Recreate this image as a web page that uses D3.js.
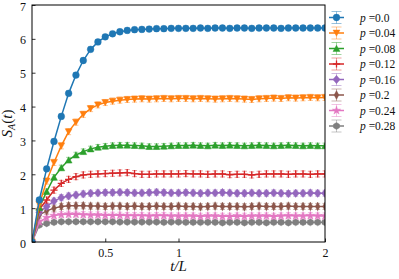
<!DOCTYPE html>
<html>
<head>
<meta charset="utf-8">
<script src="https://cdn.jsdelivr.net/npm/d3@7"></script>
<style>
  body { margin: 0; background: #fff; }
  svg { display: block; }
  text { font-family: "Liberation Serif", "DejaVu Serif", serif; fill: #111; }
</style>
</head>
<body>
<script>
// t/L sampling
const tL = [0, 0.05, 0.1, 0.15, 0.2, 0.25, 0.3, 0.35, 0.4, 0.45, 0.5, 0.55, 0.6, 0.65, 0.7, 0.75, 0.8, 0.85, 0.9, 0.95,
  1.0, 1.05, 1.1, 1.15, 1.2, 1.25, 1.3, 1.35, 1.4, 1.45, 1.5, 1.55, 1.6, 1.65, 1.7, 1.75, 1.8, 1.85, 1.9, 1.95, 2.0];

const labels = ["0.0", "0.04", "0.08", "0.12", "0.16", "0.2", "0.24", "0.28"];
const colors = ["#1f77b4", "#ff7f0e", "#2ca02c", "#d62728", "#9467bd", "#8c564b", "#e377c2", "#7f7f7f"];
const markers = ["circle", "tridown", "triup", "plus", "diamond", "thindiamond", "star", "hexagon"];

const s00 = [0, 1.24, 2.16, 2.97, 3.71, 4.39, 4.93, 5.36, 5.69, 5.91, 6.06, 6.15, 6.21, 6.25, 6.27, 6.28, 6.29, 6.30, 6.30, 6.31,
  6.31, 6.31, 6.31, 6.32, 6.31, 6.32, 6.32, 6.31, 6.32, 6.32, 6.31, 6.32, 6.32, 6.32, 6.31, 6.32, 6.32, 6.32, 6.32, 6.32, 6.32];
const s04 = [0, 1.11, 1.80, 2.35, 2.84, 3.26, 3.54, 3.77, 3.94, 4.05, 4.12, 4.16, 4.19, 4.21, 4.22, 4.23, 4.22, 4.23, 4.24, 4.23,
  4.24, 4.24, 4.23, 4.24, 4.23, 4.22, 4.23, 4.24, 4.23, 4.22, 4.21, 4.23, 4.24, 4.25, 4.24, 4.26, 4.25, 4.26, 4.27, 4.26, 4.27];
const s08 = [0, 1.02, 1.49, 1.91, 2.19, 2.42, 2.57, 2.67, 2.75, 2.80, 2.83, 2.85, 2.86, 2.86, 2.85, 2.84, 2.82, 2.82, 2.83, 2.84,
  2.85, 2.85, 2.86, 2.85, 2.84, 2.86, 2.85, 2.86, 2.85, 2.84, 2.85, 2.86, 2.85, 2.84, 2.85, 2.86, 2.85, 2.84, 2.85, 2.84, 2.84];
const s12 = [0, 0.97, 1.24, 1.53, 1.73, 1.85, 1.93, 1.98, 2.00, 2.01, 2.02, 2.03, 2.04, 2.05, 2.02, 2.00, 2.00, 2.01, 2.01, 2.01,
  2.01, 2.02, 2.01, 2.01, 2.00, 2.01, 2.01, 1.99, 2.00, 2.00, 1.98, 2.00, 2.01, 2.01, 2.01, 2.00, 2.01, 2.01, 2.00, 2.01, 2.01];
const s16 = [0, 0.88, 1.05, 1.21, 1.31, 1.36, 1.39, 1.42, 1.44, 1.45, 1.46, 1.46, 1.47, 1.46, 1.45, 1.45, 1.46, 1.47, 1.46, 1.45,
  1.45, 1.46, 1.45, 1.44, 1.45, 1.45, 1.46, 1.45, 1.44, 1.44, 1.45, 1.44, 1.44, 1.45, 1.44, 1.43, 1.44, 1.44, 1.45, 1.44, 1.44];
const s20 = [0, 0.80, 0.92, 1.00, 1.05, 1.07, 1.07, 1.07, 1.06, 1.06, 1.05, 1.06, 1.06, 1.05, 1.06, 1.05, 1.05, 1.06, 1.05, 1.05,
  1.06, 1.05, 1.05, 1.04, 1.05, 1.06, 1.05, 1.05, 1.05, 1.04, 1.05, 1.06, 1.05, 1.05, 1.05, 1.06, 1.05, 1.05, 1.05, 1.05, 1.05];
const s24 = [0, 0.60, 0.72, 0.78, 0.81, 0.82, 0.82, 0.81, 0.80, 0.80, 0.79, 0.79, 0.79, 0.78, 0.78, 0.78, 0.77, 0.78, 0.78, 0.77,
  0.77, 0.77, 0.77, 0.76, 0.77, 0.77, 0.76, 0.76, 0.77, 0.76, 0.77, 0.77, 0.77, 0.76, 0.77, 0.78, 0.77, 0.77, 0.78, 0.77, 0.77];
const s28 = [0, 0.50, 0.55, 0.58, 0.60, 0.60, 0.60, 0.60, 0.60, 0.60, 0.60, 0.60, 0.59, 0.59, 0.59, 0.59, 0.59, 0.59, 0.58, 0.59,
  0.59, 0.58, 0.58, 0.58, 0.58, 0.58, 0.57, 0.58, 0.58, 0.57, 0.58, 0.58, 0.57, 0.58, 0.58, 0.57, 0.58, 0.58, 0.58, 0.58, 0.58];
const seriesValues = [s00, s04, s08, s12, s16, s20, s24, s28];
// one typical error bar half-height per series
const errs = [0.07, 0.09, 0.08, 0.09, 0.09, 0.09, 0.09, 0.06];

const xTicks = [0.5, 1, 2];
const yTicks = [0, 1, 2, 3, 4, 5, 6, 7];

const W = 399, H = 279;
const margin = { top: 5, right: 74, bottom: 37, left: 32 },
      width = W - margin.left - margin.right,
      height = H - margin.top - margin.bottom;

const svg = d3.select("body").append("svg")
  .attr("width", W)
  .attr("height", H);

const x = d3.scaleLinear().domain([0, 2]).range([0, width]);
const y = d3.scaleLinear().domain([0, 7]).range([height, 0]);

const g = svg.append("g")
  .attr("transform", `translate(${margin.left}, ${margin.top})`);

g.append("clipPath").attr("id", "clip")
  .append("rect").attr("width", width).attr("height", height);

// marker paths, centred on 0,0
function markerPath(kind) {
  const p = d3.path();
  switch (kind) {
    case "circle": p.arc(0, 0, 3.4, 0, 2 * Math.PI); break;
    case "tridown": p.moveTo(-3.5, -3); p.lineTo(3.5, -3); p.lineTo(0, 3.3); p.closePath(); break;
    case "triup": p.moveTo(-3.5, 3); p.lineTo(3.5, 3); p.lineTo(0, -3.3); p.closePath(); break;
    case "plus": p.moveTo(-3.6, 0); p.lineTo(3.6, 0); p.moveTo(0, -3.6); p.lineTo(0, 3.6); break;
    case "diamond": p.moveTo(0, -4.2); p.lineTo(3.6, 0); p.lineTo(0, 4.2); p.lineTo(-3.6, 0); p.closePath(); break;
    case "thindiamond": p.moveTo(0, -4.4); p.lineTo(2.4, 0); p.lineTo(0, 4.4); p.lineTo(-2.4, 0); p.closePath(); break;
    case "star": return d3.symbol(d3.symbolStar, 22)();
    case "hexagon":
      for (let i = 0; i < 6; i++) {
        const a = Math.PI / 6 + i * Math.PI / 3;
        if (i === 0) p.moveTo(3.5 * Math.cos(a), 3.5 * Math.sin(a));
        else p.lineTo(3.5 * Math.cos(a), 3.5 * Math.sin(a));
      }
      p.closePath(); break;
  }
  return p.toString();
}

function drawMarker(sel, kind, color) {
  const stroked = kind === "plus";
  sel.append("path")
    .attr("d", markerPath(kind))
    .attr("fill", stroked ? "none" : color)
    .attr("stroke", color)
    .attr("stroke-width", stroked ? 1.3 : 0.4);
}

const data = seriesValues.map((vals, i) => ({
  label: labels[i], color: colors[i], marker: markers[i], err: errs[i],
  values: vals.map((v, j) => ({ t: tL[j], s: v }))
}));

const line = d3.line().x(d => x(d.t)).y(d => y(d.s));

const plot = g.append("g").attr("clip-path", "url(#clip)");

// draw from last to first so the top series stay on top
data.slice().reverse().forEach(ser => {
  const sg = plot.append("g");
  sg.append("path")
    .attr("d", line(ser.values))
    .attr("fill", "none")
    .attr("stroke", ser.color)
    .attr("stroke-width", 1.5);

  const eb = sg.append("g")
    .attr("stroke", ser.color)
    .attr("stroke-opacity", 0.45)
    .attr("stroke-width", 1);
  ser.values.forEach(d => {
    const y0 = y(d.s - ser.err), y1 = y(d.s + ser.err), cx = x(d.t);
    eb.append("line").attr("x1", cx).attr("x2", cx).attr("y1", y0).attr("y2", y1);
    eb.append("line").attr("x1", cx - 2.5).attr("x2", cx + 2.5).attr("y1", y0).attr("y2", y0);
    eb.append("line").attr("x1", cx - 2.5).attr("x2", cx + 2.5).attr("y1", y1).attr("y2", y1);
  });

  ser.values.forEach(d => {
    const m = sg.append("g").attr("transform", `translate(${x(d.t)},${y(d.s)})`);
    drawMarker(m, ser.marker, ser.color);
  });
});

// axes: inward ticks, no domain path (frame drawn separately)
const xAxis = g.append("g")
  .attr("transform", `translate(0, ${height})`)
  .call(d3.axisBottom(x).tickValues(xTicks).tickSize(-3.5).tickPadding(6).tickFormat(d3.format("")));
const yAxis = g.append("g")
  .call(d3.axisLeft(y).tickValues(yTicks).tickSize(-3.5).tickPadding(6).tickFormat(d3.format("d")));
[xAxis, yAxis].forEach(a => {
  a.select(".domain").remove();
  a.selectAll("line").attr("stroke", "#000").attr("stroke-width", 0.8);
  a.selectAll("text").attr("font-family", "Liberation Serif, serif").attr("font-size", 12).attr("fill", "#111");
});
yAxis.selectAll("text").attr("dy", "0.42em");

g.append("rect")
  .attr("width", width).attr("height", height)
  .attr("fill", "none").attr("stroke", "#000").attr("stroke-width", 1);

// axis labels
svg.append("text")
  .attr("x", margin.left + width / 2)
  .attr("y", 271)
  .attr("text-anchor", "middle")
  .attr("font-size", 15)
  .attr("font-style", "italic")
  .text("t/L");

const yl = svg.append("text")
  .attr("transform", `translate(12, ${margin.top + height / 2}) rotate(-90)`)
  .attr("text-anchor", "middle")
  .attr("font-size", 15)
  .attr("font-style", "italic");
yl.append("tspan").text("S");
yl.append("tspan").attr("font-size", 10).attr("dy", 3).text("A");
yl.append("tspan").attr("dy", -3).attr("font-style", "normal").text("(");
yl.append("tspan").text("t");
yl.append("tspan").attr("font-style", "normal").text(")");

// legend
const legend = svg.append("g").attr("transform", "translate(329, 17.5)");
data.forEach((ser, i) => {
  const row = legend.append("g").attr("transform", `translate(0, ${i * 15.5})`);
  row.append("line").attr("x1", 0).attr("x2", 15).attr("y1", 0).attr("y2", 0)
    .attr("stroke", ser.color).attr("stroke-width", 1.5);
  const eb = row.append("g").attr("stroke", ser.color).attr("stroke-opacity", 0.45).attr("stroke-width", 1);
  eb.append("line").attr("x1", 7.5).attr("x2", 7.5).attr("y1", -6).attr("y2", 6);
  eb.append("line").attr("x1", 2.5).attr("x2", 12.5).attr("y1", -6).attr("y2", -6);
  eb.append("line").attr("x1", 2.5).attr("x2", 12.5).attr("y1", 6).attr("y2", 6);
  const m = row.append("g").attr("transform", "translate(7.5,0)");
  drawMarker(m, ser.marker, ser.color);
  const t = row.append("text").attr("x", 31).attr("y", 4).attr("font-size", 11.5);
  t.append("tspan").attr("font-style", "italic").text("p");
  t.append("tspan").text(" =" + ser.label);
});
</script>
</body>
</html>
